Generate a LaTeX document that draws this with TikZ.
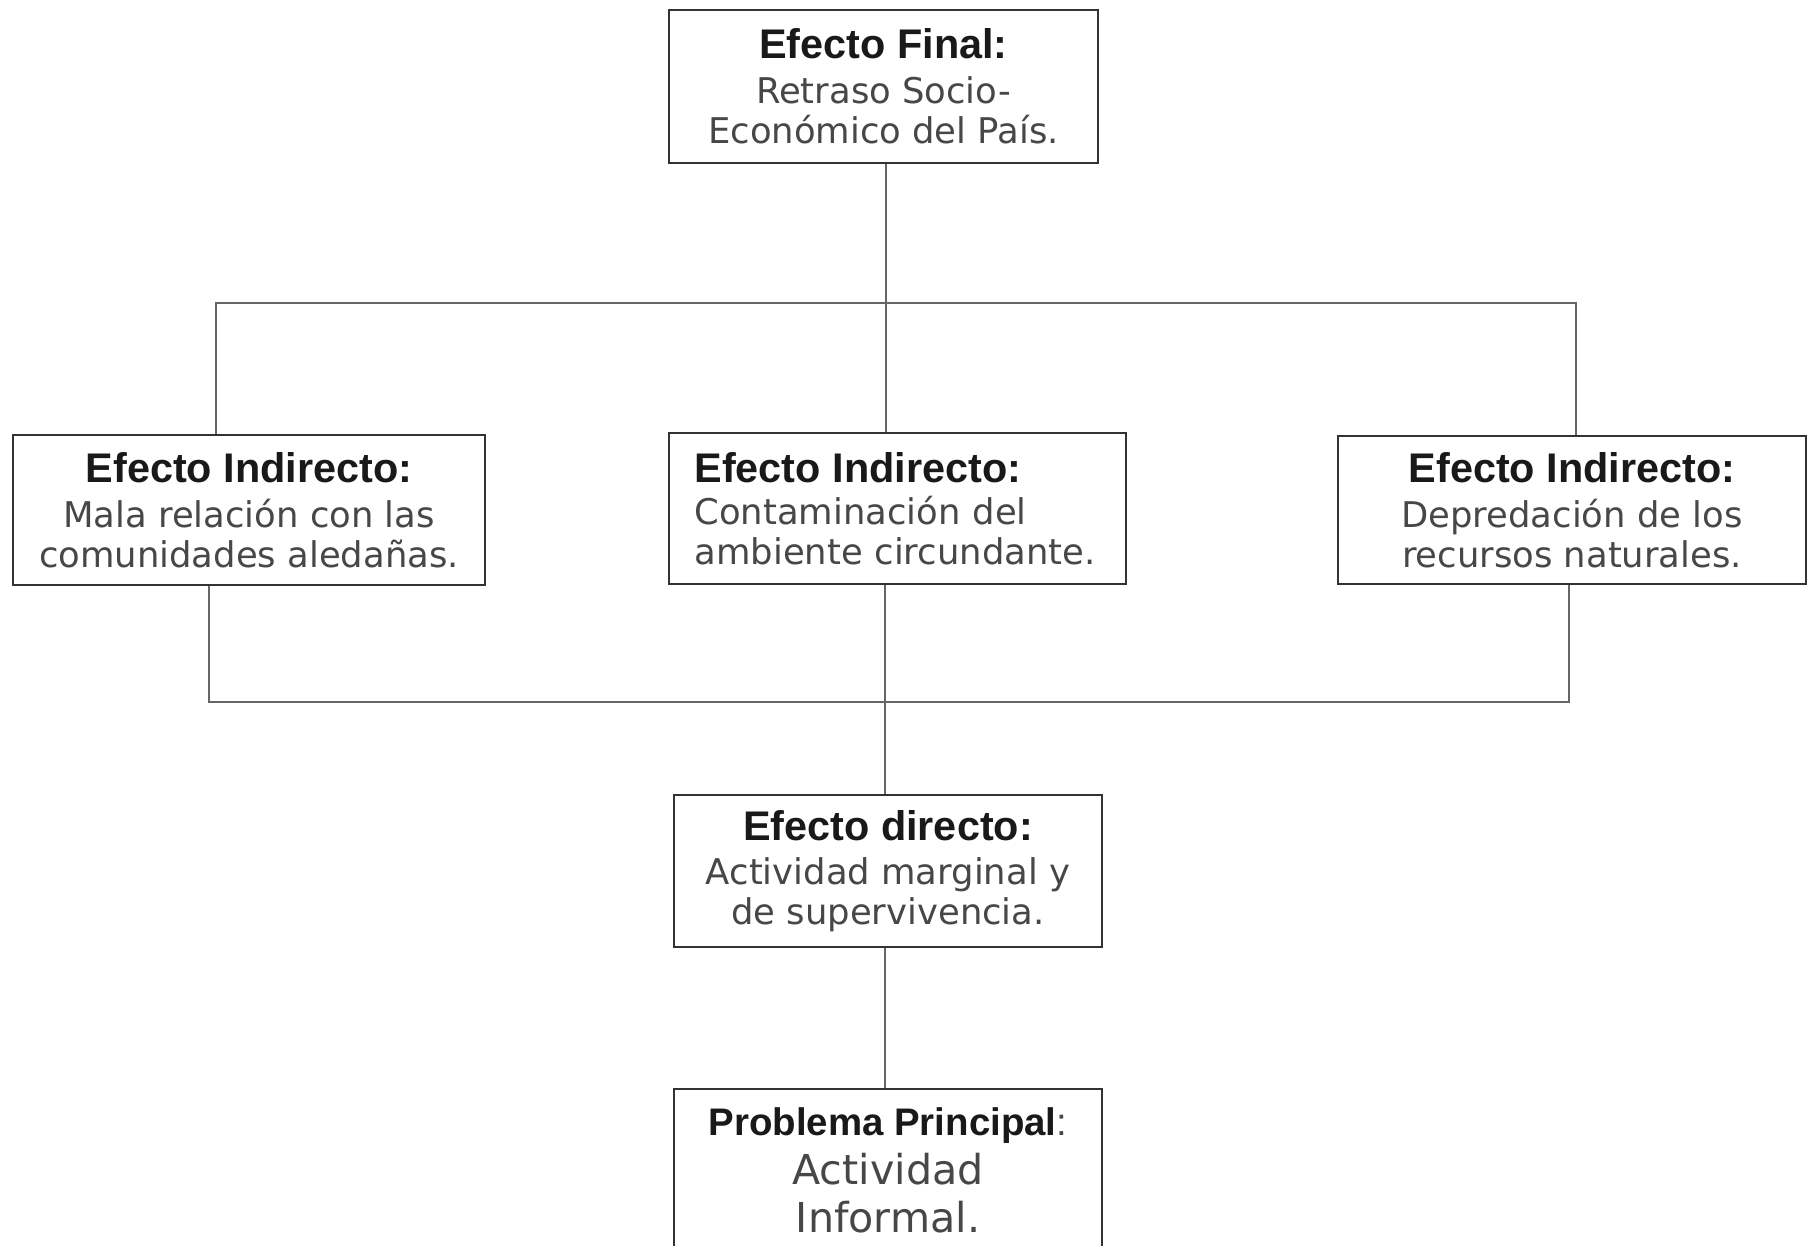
\documentclass[tikz,border=0pt]{standalone}
\usepackage{xcolor}
\usepackage{fontspec}
\setmainfont{DejaVu Sans}
\newfontfamily\headfont{Liberation Sans}
\newcommand{\cabeza}[1]{{\headfont\bfseries\fontsize{20.7}{20}\selectfont\color{black!90}#1}}

\begin{document}
\begin{tikzpicture}[x=0.5pt,y=-0.5pt]
	\tikzstyle{every node}=[font=\fontsize{17.7}{20}\selectfont]
	\tikzstyle{effbox}=[draw=black!80,line width=1.2pt,fill=white,text=black!72,align=center,inner sep=0pt]
	\tikzstyle{link}=[draw=black!60,line width=0.9pt]

	\useasboundingbox[fill=white] (0,0) rectangle (1808,1246);

	\node[effbox,minimum width=214.5pt,minimum height=76.5pt] (efinal) at (883.5,86.5)
		{\cabeza{Efecto Final:}\\[2.5pt] Retraso Socio-\\ Económico del País.};
	\node[effbox,minimum width=236pt,minimum height=75pt] (eind1) at (249,510)
		{\cabeza{Efecto Indirecto:}\\[2.5pt] Mala relación con las\\ comunidades aledañas.};
	\node[effbox,align=left,minimum width=228.5pt,minimum height=75.5pt,text width=203pt] (eind2) at (897.5,508.5)
		{\cabeza{Efecto Indirecto:}\\[1pt] Contaminación del\\ ambiente circundante.};
	\node[effbox,minimum width=234pt,minimum height=74pt] (eind3) at (1572,510)
		{\cabeza{Efecto Indirecto:}\\[2.5pt] Depredación de los\\ recursos naturales.};
	\node[effbox,minimum width=214pt,minimum height=76pt] (edirecto) at (888,871)
		{\cabeza{Efecto directo:}\\[2pt] Actividad marginal y\\ de supervivencia.};
	\node[effbox,minimum width=214pt,minimum height=81.5pt] (problema) at (888,1170.5)
		{{\headfont\bfseries\fontsize{19.2}{20}\selectfont\color{black!90}Problema Principal}{\headfont\fontsize{19.2}{20}\selectfont:}\\[4.5pt]
		 {\fontsize{20.6}{24}\selectfont Actividad}\\[4pt] {\fontsize{20.6}{24}\selectfont Informal.}};

	% buses
	\coordinate (barup) at (886,303);
	\coordinate (upL)   at (216,303);
	\coordinate (upR)   at (1576,303);
	\coordinate (bardn) at (885,702);
	\coordinate (dnL)   at (209,702);
	\coordinate (dnR)   at (1569,702);

	\draw[link] (efinal.south -| barup) -- (barup);
	\draw[link] (eind1.north -| upL) -- (upL) -- (upR) -- (eind3.north -| upR);
	\draw[link] (barup) -- (eind2.north -| barup);
	\draw[link] (eind1.south -| dnL) -- (dnL) -- (dnR) -- (eind3.south -| dnR);
	\draw[link] (eind2.south -| bardn) -- (edirecto.north -| bardn);
	\draw[link] (edirecto.south -| bardn) -- (problema.north -| bardn);
\end{tikzpicture}
\end{document}
